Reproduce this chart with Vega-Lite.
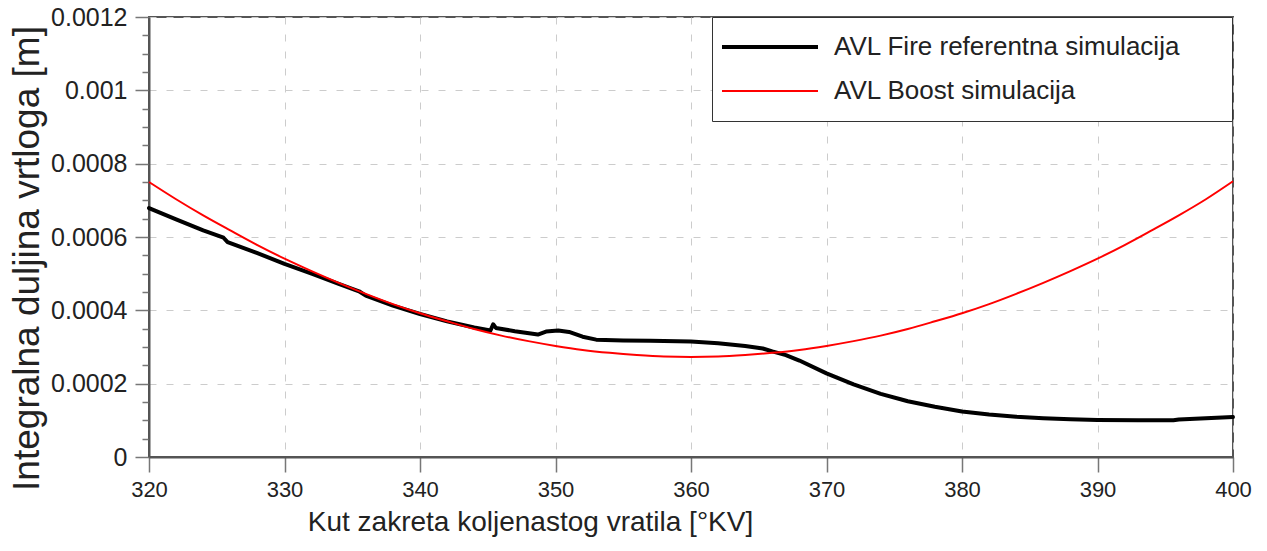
{
  "$schema": "https://vega.github.io/schema/vega-lite/v6.json",
  "width": 1084,
  "height": 440,
  "autosize": "none",
  "padding": {"left": 149, "top": 17, "right": 34, "bottom": 94},
  "background": "white",
  "config": {
    "font": "Liberation Sans",
    "view": {"stroke": "#555555", "strokeWidth": 2},
    "axis": {"labelColor": "#222222", "titleColor": "#222222", "titleFontWeight": "normal", "labelFont": "Liberation Sans", "titleFont": "Liberation Sans"},
    "legend": {"labelFont": "Liberation Sans"}
  },
  "datasets": {
    "curves": [
      {"angle": 320, "value": 0.000679, "series": "AVL Fire referentna simulacija"},
      {"angle": 322, "value": 0.000648, "series": "AVL Fire referentna simulacija"},
      {"angle": 324, "value": 0.000618, "series": "AVL Fire referentna simulacija"},
      {"angle": 325.5, "value": 0.000598, "series": "AVL Fire referentna simulacija"},
      {"angle": 325.8, "value": 0.000586, "series": "AVL Fire referentna simulacija"},
      {"angle": 328, "value": 0.000556, "series": "AVL Fire referentna simulacija"},
      {"angle": 330, "value": 0.000527, "series": "AVL Fire referentna simulacija"},
      {"angle": 332, "value": 0.0005, "series": "AVL Fire referentna simulacija"},
      {"angle": 334, "value": 0.000472, "series": "AVL Fire referentna simulacija"},
      {"angle": 335.5, "value": 0.000452, "series": "AVL Fire referentna simulacija"},
      {"angle": 336, "value": 0.00044, "series": "AVL Fire referentna simulacija"},
      {"angle": 338, "value": 0.000413, "series": "AVL Fire referentna simulacija"},
      {"angle": 340, "value": 0.00039, "series": "AVL Fire referentna simulacija"},
      {"angle": 342, "value": 0.00037, "series": "AVL Fire referentna simulacija"},
      {"angle": 344, "value": 0.000353, "series": "AVL Fire referentna simulacija"},
      {"angle": 345.2, "value": 0.000345, "series": "AVL Fire referentna simulacija"},
      {"angle": 345.4, "value": 0.000362, "series": "AVL Fire referentna simulacija"},
      {"angle": 345.6, "value": 0.000352, "series": "AVL Fire referentna simulacija"},
      {"angle": 347, "value": 0.000343, "series": "AVL Fire referentna simulacija"},
      {"angle": 348.7, "value": 0.000334, "series": "AVL Fire referentna simulacija"},
      {"angle": 349.3, "value": 0.000342, "series": "AVL Fire referentna simulacija"},
      {"angle": 350.2, "value": 0.000345, "series": "AVL Fire referentna simulacija"},
      {"angle": 351, "value": 0.000341, "series": "AVL Fire referentna simulacija"},
      {"angle": 352, "value": 0.000328, "series": "AVL Fire referentna simulacija"},
      {"angle": 353, "value": 0.00032, "series": "AVL Fire referentna simulacija"},
      {"angle": 355, "value": 0.000318, "series": "AVL Fire referentna simulacija"},
      {"angle": 357, "value": 0.000317, "series": "AVL Fire referentna simulacija"},
      {"angle": 360, "value": 0.000315, "series": "AVL Fire referentna simulacija"},
      {"angle": 362, "value": 0.00031, "series": "AVL Fire referentna simulacija"},
      {"angle": 364, "value": 0.000303, "series": "AVL Fire referentna simulacija"},
      {"angle": 365.3, "value": 0.000296, "series": "AVL Fire referentna simulacija"},
      {"angle": 366, "value": 0.000288, "series": "AVL Fire referentna simulacija"},
      {"angle": 367, "value": 0.000278, "series": "AVL Fire referentna simulacija"},
      {"angle": 368, "value": 0.000263, "series": "AVL Fire referentna simulacija"},
      {"angle": 370, "value": 0.000228, "series": "AVL Fire referentna simulacija"},
      {"angle": 372, "value": 0.000198, "series": "AVL Fire referentna simulacija"},
      {"angle": 374, "value": 0.000172, "series": "AVL Fire referentna simulacija"},
      {"angle": 375.6, "value": 0.000156, "series": "AVL Fire referentna simulacija"},
      {"angle": 376, "value": 0.000152, "series": "AVL Fire referentna simulacija"},
      {"angle": 378, "value": 0.000137, "series": "AVL Fire referentna simulacija"},
      {"angle": 380, "value": 0.000124, "series": "AVL Fire referentna simulacija"},
      {"angle": 382, "value": 0.000116, "series": "AVL Fire referentna simulacija"},
      {"angle": 384, "value": 0.00011, "series": "AVL Fire referentna simulacija"},
      {"angle": 386, "value": 0.000106, "series": "AVL Fire referentna simulacija"},
      {"angle": 388, "value": 0.000103, "series": "AVL Fire referentna simulacija"},
      {"angle": 390, "value": 0.000101, "series": "AVL Fire referentna simulacija"},
      {"angle": 393, "value": 0.0001, "series": "AVL Fire referentna simulacija"},
      {"angle": 395.6, "value": 0.0001, "series": "AVL Fire referentna simulacija"},
      {"angle": 396, "value": 0.000102, "series": "AVL Fire referentna simulacija"},
      {"angle": 398, "value": 0.000106, "series": "AVL Fire referentna simulacija"},
      {"angle": 400, "value": 0.000109, "series": "AVL Fire referentna simulacija"},
      {"angle": 320, "value": 0.00075, "series": "AVL Boost simulacija"},
      {"angle": 322, "value": 0.000703, "series": "AVL Boost simulacija"},
      {"angle": 324, "value": 0.000659, "series": "AVL Boost simulacija"},
      {"angle": 326, "value": 0.000618, "series": "AVL Boost simulacija"},
      {"angle": 328, "value": 0.000578, "series": "AVL Boost simulacija"},
      {"angle": 330, "value": 0.000541, "series": "AVL Boost simulacija"},
      {"angle": 332, "value": 0.000507, "series": "AVL Boost simulacija"},
      {"angle": 334, "value": 0.000475, "series": "AVL Boost simulacija"},
      {"angle": 336, "value": 0.000445, "series": "AVL Boost simulacija"},
      {"angle": 338, "value": 0.000417, "series": "AVL Boost simulacija"},
      {"angle": 340, "value": 0.000392, "series": "AVL Boost simulacija"},
      {"angle": 342, "value": 0.00037, "series": "AVL Boost simulacija"},
      {"angle": 344, "value": 0.000349, "series": "AVL Boost simulacija"},
      {"angle": 346, "value": 0.000331, "series": "AVL Boost simulacija"},
      {"angle": 348, "value": 0.000316, "series": "AVL Boost simulacija"},
      {"angle": 350, "value": 0.000303, "series": "AVL Boost simulacija"},
      {"angle": 352, "value": 0.000292, "series": "AVL Boost simulacija"},
      {"angle": 354, "value": 0.000284, "series": "AVL Boost simulacija"},
      {"angle": 356, "value": 0.000278, "series": "AVL Boost simulacija"},
      {"angle": 358, "value": 0.000274, "series": "AVL Boost simulacija"},
      {"angle": 360, "value": 0.000273, "series": "AVL Boost simulacija"},
      {"angle": 362, "value": 0.000274, "series": "AVL Boost simulacija"},
      {"angle": 364, "value": 0.000278, "series": "AVL Boost simulacija"},
      {"angle": 366, "value": 0.000284, "series": "AVL Boost simulacija"},
      {"angle": 368, "value": 0.000292, "series": "AVL Boost simulacija"},
      {"angle": 370, "value": 0.000303, "series": "AVL Boost simulacija"},
      {"angle": 372, "value": 0.000316, "series": "AVL Boost simulacija"},
      {"angle": 374, "value": 0.000331, "series": "AVL Boost simulacija"},
      {"angle": 376, "value": 0.000349, "series": "AVL Boost simulacija"},
      {"angle": 378, "value": 0.00037, "series": "AVL Boost simulacija"},
      {"angle": 380, "value": 0.000392, "series": "AVL Boost simulacija"},
      {"angle": 382, "value": 0.000417, "series": "AVL Boost simulacija"},
      {"angle": 384, "value": 0.000445, "series": "AVL Boost simulacija"},
      {"angle": 386, "value": 0.000475, "series": "AVL Boost simulacija"},
      {"angle": 388, "value": 0.000507, "series": "AVL Boost simulacija"},
      {"angle": 390, "value": 0.000541, "series": "AVL Boost simulacija"},
      {"angle": 392, "value": 0.000578, "series": "AVL Boost simulacija"},
      {"angle": 394, "value": 0.000618, "series": "AVL Boost simulacija"},
      {"angle": 396, "value": 0.000659, "series": "AVL Boost simulacija"},
      {"angle": 398, "value": 0.000703, "series": "AVL Boost simulacija"},
      {"angle": 400, "value": 0.000752, "series": "AVL Boost simulacija"}
    ]
  },
  "data": {"name": "curves"},
  "encoding": {
    "x": {
      "field": "angle", "type": "quantitative",
      "scale": {"domain": [320, 400], "nice": false, "zero": false},
      "axis": {
        "title": "Kut zakreta koljenastog vratila [°KV]",
        "values": [320, 330, 340, 350, 360, 370, 380, 390, 400],
        "format": "d",
        "labelFontSize": 22, "labelPadding": 7, "labelFlush": false,
        "tickSize": 15, "tickColor": "#777777", "tickWidth": 1.5,
        "domainColor": "#555555", "domainWidth": 2,
        "grid": true, "gridColor": "#cccccc", "gridDash": [7, 10], "gridWidth": 1,
        "titleFontSize": 28, "titlePadding": 8, "titleX": 381, "titleAnchor": "middle"
      }
    },
    "color": {
      "field": "series", "type": "nominal",
      "scale": {"domain": ["AVL Fire referentna simulacija", "AVL Boost simulacija"], "range": ["#000000", "#ff0000"]},
      "legend": {
        "title": "\u00a0", "titleOrient": "right", "titleFontSize": 14, "titlePadding": 44,
        "orient": "none", "legendX": 563, "legendY": 0,
        "symbolType": "stroke", "symbolSize": 9216,
        "labelFontSize": 26, "labelColor": "#222222", "labelOffset": 14, "labelLimit": 500,
        "clipHeight": 44, "rowPadding": 0, "padding": 8,
        "strokeColor": "#333333", "fillColor": "white"
      }
    },
    "strokeWidth": {
      "field": "series", "type": "nominal",
      "scale": {"domain": ["AVL Fire referentna simulacija", "AVL Boost simulacija"], "range": [4, 2]},
      "legend": {
        "title": "\u00a0", "titleOrient": "right", "titleFontSize": 14, "titlePadding": 44,
        "orient": "none", "legendX": 563, "legendY": 0,
        "symbolType": "stroke", "symbolSize": 9216,
        "labelFontSize": 26, "labelColor": "#222222", "labelOffset": 14, "labelLimit": 500,
        "clipHeight": 44, "rowPadding": 0, "padding": 8,
        "strokeColor": "#333333", "fillColor": "white"
      }
    }
  },
  "layer": [
    {
      "transform": [{"filter": "datum.series === 'AVL Fire referentna simulacija'"}],
      "mark": {"type": "line", "interpolate": "linear", "strokeJoin": "round", "strokeCap": "round"},
      "encoding": {
        "y": {
          "field": "value", "type": "quantitative",
          "scale": {"domain": [0, 0.0012], "nice": false},
          "axis": {
            "orient": "left", "title": null, "labels": false, "grid": false, "domain": false,
            "values": [0.00005, 0.0001, 0.00015, 0.00025, 0.0003, 0.00035, 0.00045, 0.0005, 0.00055, 0.00065, 0.0007, 0.00075, 0.00085, 0.0009, 0.00095, 0.00105, 0.0011, 0.00115],
            "tickSize": 7, "tickColor": "#777777", "tickWidth": 1.5
          }
        }
      }
    },
    {
      "transform": [{"filter": "datum.series === 'AVL Boost simulacija'"}],
      "mark": {"type": "line", "interpolate": "monotone"},
      "encoding": {
        "y": {
          "field": "value", "type": "quantitative",
          "scale": {"domain": [0, 0.0012], "nice": false},
          "axis": {
            "orient": "left",
            "title": "Integralna duljina vrtloga [m]",
            "values": [0, 0.0002, 0.0004, 0.0006, 0.0008, 0.001, 0.0012],
            "labelExpr": "datum.value == 0 ? '0' : format(datum.value, '.4~f')",
            "labelFontSize": 25, "labelPadding": 8,
            "tickSize": 14, "tickColor": "#777777", "tickWidth": 1.5,
            "domainColor": "#555555", "domainWidth": 2,
            "grid": true, "gridColor": "#cccccc", "gridDash": [7, 10], "gridWidth": 1,
            "titleFontSize": 37, "titlePadding": 4, "titleY": 241, "titleAnchor": "middle"
          }
        }
      }
    }
  ],
  "resolve": {"axis": {"y": "independent"}}
}
